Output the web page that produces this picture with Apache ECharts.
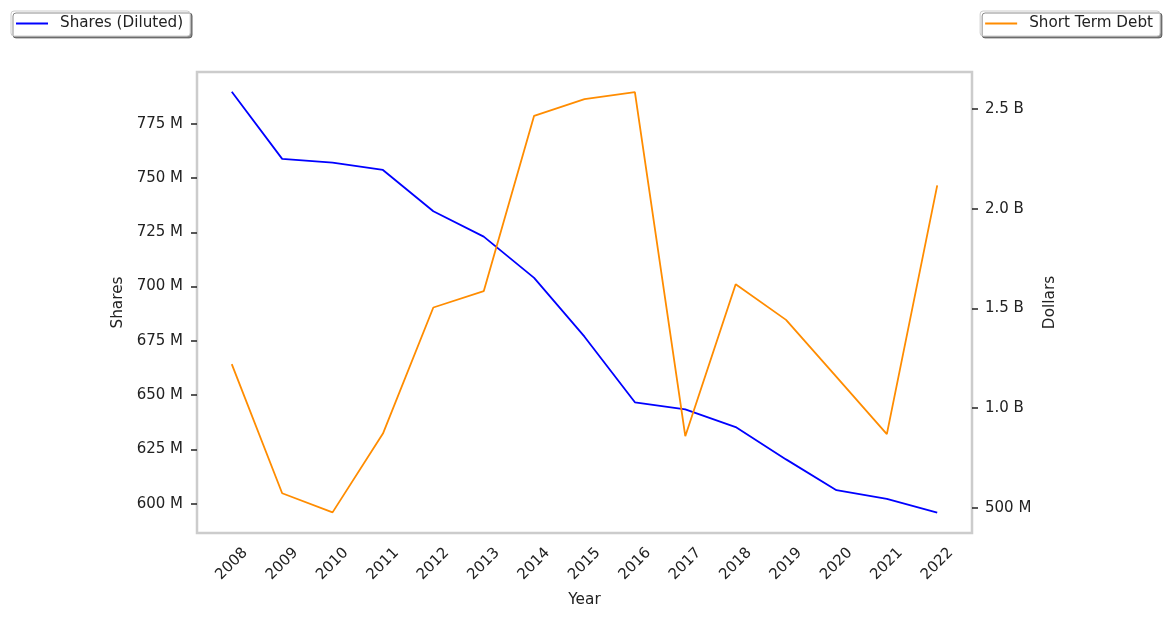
<!DOCTYPE html>
<html>
<head>
<meta charset="utf-8">
<script src="https://cdn.jsdelivr.net/npm/echarts@6/dist/echarts.min.js"></script>
<style>html,body{margin:0;padding:0;background:#fff;}#c{width:1169px;height:618px;}</style>
</head>
<body>
<div id="c"></div>
<script>
// Data (values in millions)
var years = [2008, 2009, 2010, 2011, 2012, 2013, 2014, 2015, 2016, 2017, 2018, 2019, 2020, 2021, 2022];
var sharesDiluted = [789.7, 758.8, 757.1, 753.7, 734.7, 723.0, 704.0, 676.9, 646.7, 643.4, 635.3, 620.4, 606.2, 602.2, 595.9];
var shortTermDebt = [1221, 574, 478, 873, 1505, 1587, 2466, 2550, 2585, 860, 1622, 1443, 1157, 870, 2117];
var sharesTicks = [600, 625, 650, 675, 700, 725, 750, 775];
var debtTicks = [500, 1000, 1500, 2000, 2500];

var FONT = 'DejaVu Sans';
var TXT = '#222222';

function pairs(xs, ys) { return xs.map(function (x, i) { return [x, ys[i]]; }); }
function fmtShares(v) { return v + ' M'; }
function fmtDebt(v) { return v < 1000 ? (v + ' M') : ((v / 1000).toFixed(1) + ' B'); }

var legendBase = {
  top: 11,
  orient: 'horizontal',
  backgroundColor: '#ffffff',
  borderColor: '#cccccc',
  borderWidth: 1,
  borderRadius: 3,
  shadowColor: 'rgba(0,0,0,0.45)',
  shadowBlur: 0,
  shadowOffsetX: 2,
  shadowOffsetY: 2,
  padding: [5, 7, 5, 5],
  itemWidth: 32,
  itemHeight: 2,
  icon: 'rect',
  textStyle: { fontFamily: FONT, fontSize: 15.2, color: TXT, padding: [0, 0, 0, 7] }
};

var chart = echarts.init(document.getElementById('c'), null, { renderer: 'canvas' });
chart.setOption({
  animation: false,
  backgroundColor: '#ffffff',
  legend: [
    Object.assign({}, legendBase, { left: 11, data: ['Shares (Diluted)'] }),
    Object.assign({}, legendBase, { right: 9, data: ['Short Term Debt'] })
  ],
  grid: {
    left: 197, top: 72, width: 775, height: 461,
    show: true, borderColor: '#cccccc', borderWidth: 2.5, backgroundColor: 'transparent',
    containLabel: false, outerBoundsMode: 'none'
  },
  xAxis: {
    type: 'value',
    min: 2007.31, max: 2022.69,
    name: 'Year', nameLocation: 'middle', nameGap: 60,
    nameTextStyle: { fontFamily: FONT, fontSize: 15.3, color: TXT },
    axisLine: { show: false },
    axisTick: { show: false },
    splitLine: { show: false },
    axisLabel: {
      customValues: years,
      rotate: 45, align: 'center', verticalAlign: 'middle', margin: 31,
      fontFamily: FONT, fontSize: 15, color: TXT,
      formatter: function (v) { return String(v); }
    }
  },
  yAxis: [
    {
      type: 'value', position: 'left',
      min: 586.5, max: 798.8,
      name: 'Shares', nameLocation: 'middle', nameGap: 65, nameRotate: 90,
      nameTextStyle: { fontFamily: FONT, fontSize: 15.3, color: TXT },
      axisLine: { show: false },
      axisTick: { show: true, customValues: sharesTicks, length: 6, lineStyle: { color: TXT, width: 1.5 } },
      splitLine: { show: false },
      axisLabel: { customValues: sharesTicks, margin: 14, fontFamily: FONT, fontSize: 15, color: TXT, formatter: fmtShares }
    },
    {
      type: 'value', position: 'right',
      min: 374.6, max: 2685.6,
      name: 'Dollars', nameLocation: 'middle', nameGap: 61, nameRotate: 90,
      nameTextStyle: { fontFamily: FONT, fontSize: 15.3, color: TXT },
      axisLine: { show: false },
      axisTick: { show: true, customValues: debtTicks, length: 6, lineStyle: { color: TXT, width: 1.5 } },
      splitLine: { show: false },
      axisLabel: { customValues: debtTicks, margin: 13, fontFamily: FONT, fontSize: 15, color: TXT, formatter: fmtDebt }
    }
  ],
  series: [
    {
      name: 'Shares (Diluted)', type: 'line', yAxisIndex: 0,
      data: pairs(years, sharesDiluted),
      symbol: 'none', showSymbol: false,
      itemStyle: { color: '#0000ff' },
      lineStyle: { color: '#0000ff', width: 1.8 }
    },
    {
      name: 'Short Term Debt', type: 'line', yAxisIndex: 1,
      data: pairs(years, shortTermDebt),
      symbol: 'none', showSymbol: false,
      itemStyle: { color: '#ff8c00' },
      lineStyle: { color: '#ff8c00', width: 1.8 }
    }
  ]
});
</script>
</body>
</html>
